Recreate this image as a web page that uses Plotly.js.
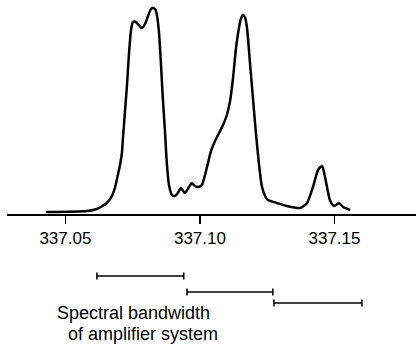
<!DOCTYPE html>
<html>
<head>
<meta charset="utf-8">
<script src="https://cdn.plot.ly/plotly-3.0.1.min.js"></script>
<style>html,body{margin:0;padding:0;background:#fff}#chart{width:416px;height:344px}</style>
</head>
<body>
<div id="chart"></div>
<script>
// Spectrum (frequency, arbitrary intensity)
var freq = [337.0428,337.0580,337.0617,337.0654,337.0673,337.0684,337.0695,337.0703,337.0710,337.0714,
  337.0721,337.0729,337.0736,337.0744,337.0751,337.0762,337.0773,337.0784,337.0796,337.0807,
  337.0818,337.0825,337.0833,337.0840,337.0848,337.0855,337.0862,337.0870,337.0877,337.0885,
  337.0896,337.0907,337.0918,337.0929,337.0944,337.0955,337.0970,337.0981,337.0993,337.1007,
  337.1019,337.1030,337.1041,337.1056,337.1071,337.1086,337.1100,337.1112,337.1123,337.1134,
  337.1145,337.1152,337.1160,337.1167,337.1175,337.1186,337.1197,337.1208,337.1219,337.1230,
  337.1242,337.1253,337.1286,337.1323,337.1372,337.1398,337.1420,337.1439,337.1454,337.1465,
  337.1483,337.1498,337.1517,337.1532,337.1558];
var intensity = [1,2,4,10,17,25,38,48,60,75,
  100,128,158,183,191,191,188,185,189,197,
  204,205,204,198,180,150,115,82,50,28,
  18,17,20,25,20,24,30,27,26,28,
  38,50,62,72,80,88,98,112,135,165,
  185,194,198,196,185,150,115,80,50,27,
  17,13,10,7,5,10,26,43,47,36,
  13,7,10,6,3];

// Spectral bandwidth segments of amplifier system
var bandStart = [337.0617, 337.0952, 337.1275];
var bandEnd   = [337.0940, 337.1271, 337.1602];
var bandLevel = [68, 52, 41];

// Axis ticks
var tickValues = [337.05, 337.10, 337.15];
var tickLabels = ["337.05", "337.10", "337.15"];

// Caption
var captionLines = ["Spectral bandwidth", "of amplifier system"];

var bx = [], by = [];
for (var i = 0; i < bandStart.length; i++) {
  bx.push(bandStart[i], bandEnd[i], null);
  by.push(bandLevel[i], bandLevel[i], null);
}

var font = "Liberation Sans, Arial, Helvetica, sans-serif";

var traces = [
  {x: freq, y: intensity, type: 'scatter', mode: 'lines',
   line: {color: '#000', width: 2.5, shape: 'spline', smoothing: 0.6},
   xaxis: 'x', yaxis: 'y', hoverinfo: 'skip'},
  {x: bx, y: by, type: 'scatter', mode: 'lines+markers',
   line: {color: '#000', width: 1.6},
   marker: {symbol: 'line-ns-open', size: 5, color: '#000', line: {width: 1.5, color: '#000'}},
   xaxis: 'x', yaxis: 'y2', hoverinfo: 'skip', cliponaxis: false}
];

var layout = {
  width: 416, height: 344,
  margin: {l: 7, r: 0, t: 0, b: 0},
  paper_bgcolor: '#fff', plot_bgcolor: 'rgba(0,0,0,0)',
  showlegend: false,
  xaxis: {
    range: [337.0283, 337.1803], anchor: 'y',
    showline: true, linecolor: '#000', linewidth: 2,
    ticks: 'outside', ticklen: 8, tickwidth: 1.5, tickcolor: '#000',
    tickvals: tickValues, ticktext: tickLabels,
    tickfont: {family: font, size: 17, color: '#000'},
    showgrid: false, zeroline: false
  },
  yaxis: {domain: [0.3779, 1], range: [-1, 213], visible: false, showgrid: false, zeroline: false},
  yaxis2: {domain: [0, 0.3488], range: [0, 120], visible: false, showgrid: false, zeroline: false, anchor: 'x'},
  annotations: [
    {text: captionLines[0], xref: 'x', yref: 'y2', x: 337.0466, y: 31, xanchor: 'left', yanchor: 'middle',
     showarrow: false, borderpad: 0, font: {family: font, size: 18, color: '#000'}},
    {text: captionLines[1], xref: 'x', yref: 'y2', x: 337.0507, y: 10, xanchor: 'left', yanchor: 'middle',
     showarrow: false, borderpad: 0, font: {family: font, size: 18, color: '#000'}}
  ]
};

Plotly.newPlot('chart', traces, layout, {staticPlot: true, displayModeBar: false});
</script>
</body>
</html>
